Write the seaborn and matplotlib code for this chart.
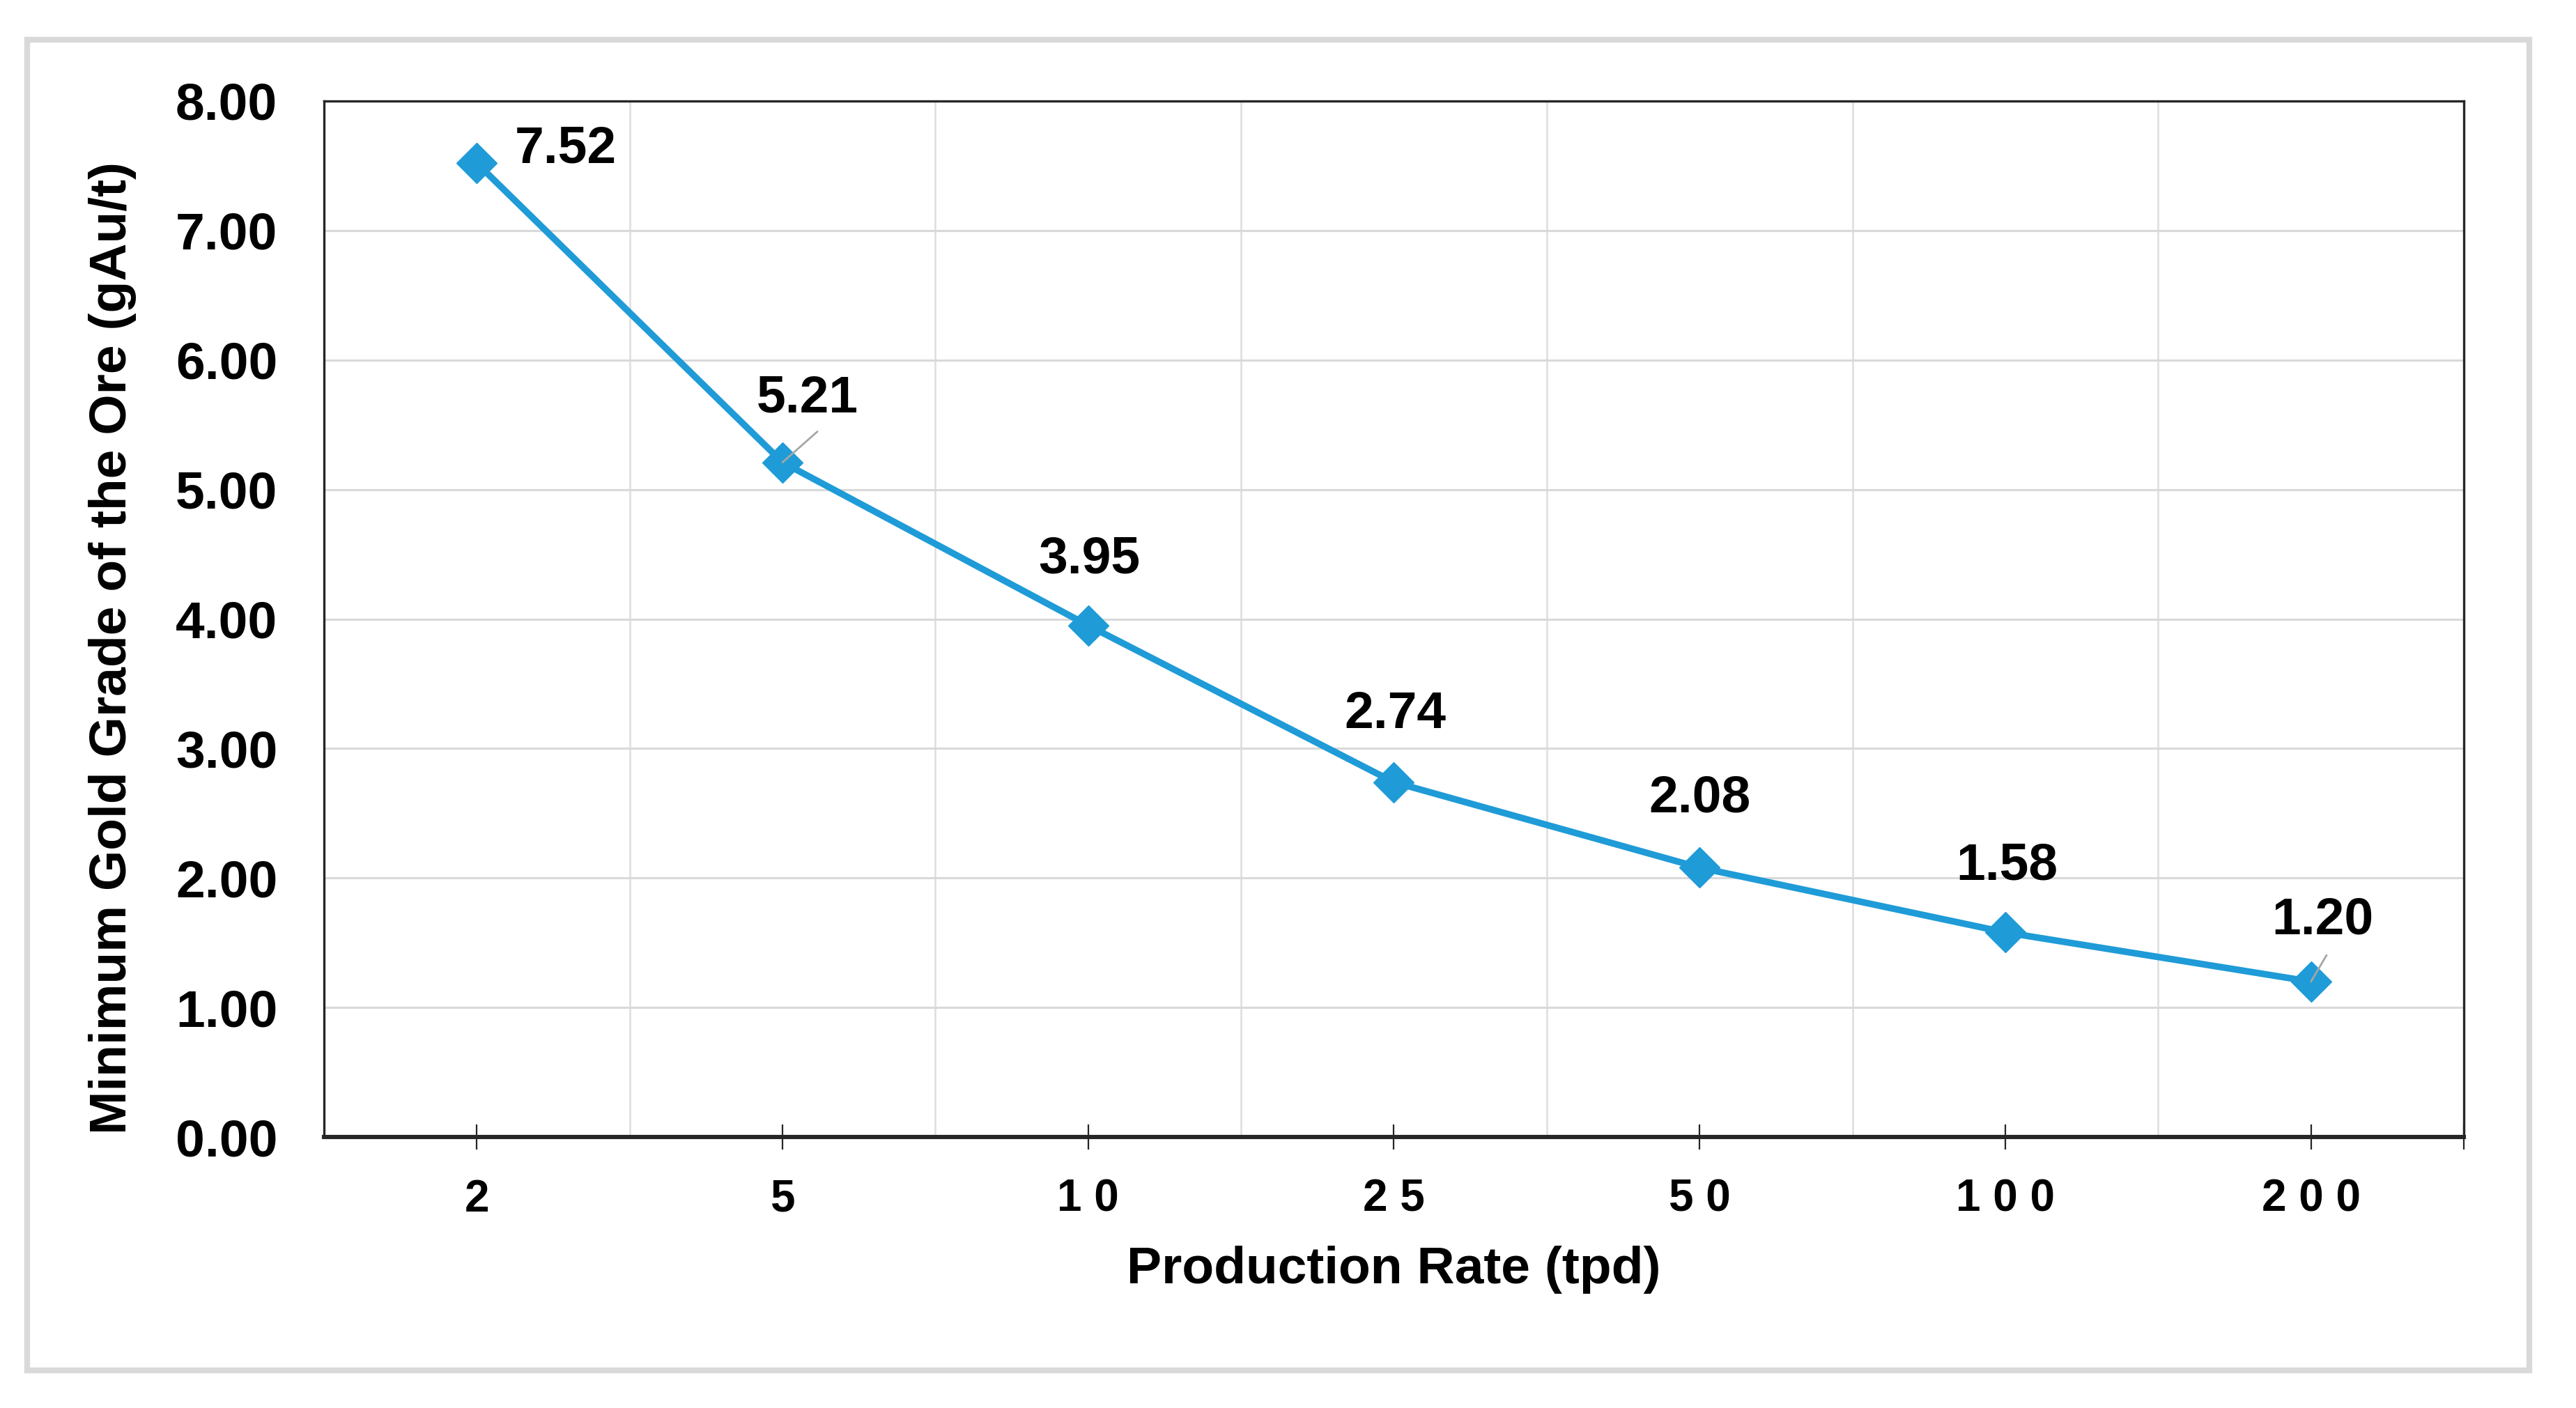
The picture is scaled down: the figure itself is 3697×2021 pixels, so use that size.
import matplotlib
matplotlib.use('Agg')
import matplotlib.pyplot as plt
import seaborn as sns
import pandas as pd
from matplotlib.patches import Rectangle

# ---- data ----
rates = ['2', '5', '10', '25', '50', '100', '200']
rate_tick_labels = ['2', '5', '1 0', '2 5', '5 0', '1 0 0', '2 0 0']
grades = [7.52, 5.21, 3.95, 2.74, 2.08, 1.58, 1.20]
y_ticks = [0, 1, 2, 3, 4, 5, 6, 7, 8]

# ---- styling of data labels (pixel offsets) ----
label_offsets = [(127, 20), (36, 92), (2, 95), (2, 97), (0, 99), (2, 95), (17, 88)]
leader_relpos = [None, (0.7, 0.0), None, None, None, None, (0.6, 0.0)]

sns.set_theme(style='white')
plt.rcParams['font.family'] = ['Liberation Sans', 'DejaVu Sans']
plt.rcParams['font.weight'] = 'bold'

W, H, DPI = 3697, 2021, 200
fig = plt.figure(figsize=(W / DPI, H / DPI), dpi=DPI)
fig.patch.set_facecolor('white')

ax_l, ax_r, ax_t, ax_b = 465 / W, 3536 / W, 1 - 145 / H, 1 - 1632 / H
ax = fig.add_axes([ax_l, ax_b, ax_r - ax_l, ax_t - ax_b])

df = pd.DataFrame({'rate': rates, 'grade': grades})
sns.pointplot(data=df, x='rate', y='grade', order=rates, color='#1F9BD7',
              markers='D', linestyles='-', markersize=15, linewidth=3.4,
              markeredgewidth=0.5, errorbar=None, ax=ax)

ax.set_xlim(-0.5, len(rates) - 0.5)
ax.set_ylim(0, 8)
ax.set_yticks(y_ticks)
ax.set_yticklabels([f'{v:.2f}' for v in y_ticks])
ax.set_xticks(list(range(len(rates))) + [len(rates) - 0.5])
ax.set_xticklabels(rate_tick_labels + [''])
ax.set_xticks([i + 0.5 for i in range(len(rates) - 1)], minor=True)

ax.grid(False)
ax.yaxis.grid(True, which='major', color='#D9D9D9', lw=1.1)
ax.xaxis.grid(True, which='minor', color='#DDDDDD', lw=0.9)
ax.set_axisbelow(True)

ax.tick_params(axis='x', which='major', direction='inout', length=13, width=0.8,
               color='#262626', pad=15, labelsize=23, bottom=True)
ax.tick_params(axis='x', which='minor', length=0)
ax.tick_params(axis='y', length=0, pad=24, labelsize=27)
for lab in ax.get_xticklabels() + ax.get_yticklabels():
    lab.set_fontweight('bold')
    lab.set_color('black')

for side in ['top', 'right', 'left', 'bottom']:
    ax.spines[side].set_visible(True)
    ax.spines[side].set_color('#262626')
    ax.spines[side].set_linewidth(1.2)
ax.spines['bottom'].set_linewidth(2.2)

ax.set_xlabel('Production Rate (tpd)', fontsize=27, fontweight='bold', color='black')
ax.set_ylabel('Minimum Gold Grade of the Ore (gAu/t)', fontsize=27, fontweight='bold', color='black')
ax.xaxis.set_label_coords(0.5, -0.105)
ax.yaxis.set_label_coords(-0.0876, 0.472)

for i, (v, off, rp) in enumerate(zip(grades, label_offsets, leader_relpos)):
    kw = {}
    if rp is not None:
        kw['arrowprops'] = dict(arrowstyle='-', color='#A6A6A6', lw=1.0,
                                shrinkA=4, shrinkB=0, relpos=rp)
    ax.annotate(f'{v:.2f}', xy=(i, v), xytext=off, textcoords='offset pixels',
                ha='center', va='center', fontsize=27, fontweight='bold',
                color='black', zorder=5, **kw)

fig.add_artist(Rectangle((39 / W, 1 - 1967 / H), (3630 - 39) / W, (1967 - 57) / H,
                         transform=fig.transFigure, fill=False,
                         edgecolor='#D9D9D9', lw=3))

fig.savefig('out.png', dpi=DPI, facecolor='white')
